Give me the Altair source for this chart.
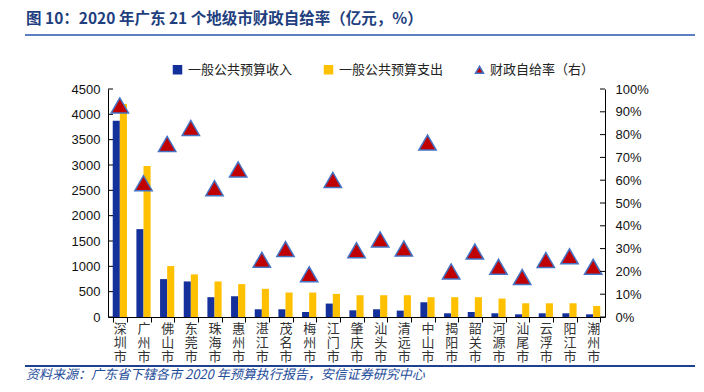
import altair as alt
import pandas as pd

cities = ["深圳市", "广州市", "佛山市", "东莞市", "珠海市", "惠州市", "湛江市", "茂名市",
          "梅州市", "江门市", "肇庆市", "汕头市", "清远市", "中山市", "揭阳市", "韶关市",
          "河源市", "汕尾市", "云浮市", "阳江市", "潮州市"]
revenue = [3872, 1734, 748, 702, 391, 410, 152, 152, 99, 265, 132, 152, 126, 291, 73, 99,
           73, 53, 73, 73, 53]
expenditure = [4204, 2979, 1006, 841, 702, 649, 556, 483, 483, 457, 430, 430, 430, 391,
               391, 391, 364, 271, 271, 271, 218]
ratio = [0.928, 0.587, 0.759, 0.829, 0.565, 0.647, 0.251, 0.298, 0.187, 0.601, 0.293,
         0.340, 0.300, 0.765, 0.200, 0.287, 0.220, 0.175, 0.250, 0.266, 0.220]
left_ticks = [0, 500, 1000, 1500, 2000, 2500, 3000, 3500, 4000, 4500]
right_ticks = [0, 0.1, 0.2, 0.3, 0.4, 0.5, 0.6, 0.7, 0.8, 0.9, 1.0]

s_rev = "一般公共预算收入"
s_exp = "一般公共预算支出"
s_rat = "财政自给率（右）"
series = [s_rev, s_exp, s_rat]
fill_colors = ["#14309A", "#FFC000", "#C00000"]
stroke_colors = ["#14309A", "#FFC000", "#4472C4"]
shapes = ["square", "square", "triangle-up"]

title_text = "图 10：2020 年广东 21 个地级市财政自给率（亿元，%）"
source_text = "资料来源：广东省下辖各市 2020 年预算执行报告，安信证券研究中心"

bars_df = pd.DataFrame(
    [{"city": c, "series": s_rev, "value": v} for c, v in zip(cities, revenue)]
    + [{"city": c, "series": s_exp, "value": v} for c, v in zip(cities, expenditure)]
)
ratio_df = pd.DataFrame({"city": cities, "series": s_rat, "ratio": ratio})

W, H = 497, 228
FONT = "Liberation Sans"
CJK = "Noto Sans CJK SC"

x_enc = alt.X(
    "city:N", sort=cities, title=None,
    scale=alt.Scale(paddingInner=0.4, paddingOuter=0.2),
    axis=alt.Axis(labelAngle=0, labelExpr="split(datum.label, '')", labelFont=CJK,
                  labelFontSize=13, labelColor="#333333", labelLineHeight=14,
                  labelPadding=0, tickBand="extent", tickSize=5, tickColor="#000000",
                  domainColor="#000000", labelBaseline="top", labelOverlap=False),
)

left_scale = alt.Scale(domain=[0, 4500], nice=False)
right_scale = alt.Scale(domain=[0, 1], nice=False)


def left_axis():
    return alt.Axis(values=left_ticks, format="d", ticks=False, labelFont=FONT,
                    labelFontSize=13, labelColor="#111111", labelPadding=8,
                    domainColor="#000000", grid=False, labelOverlap=False)


def right_axis():
    return alt.Axis(orient="right", values=right_ticks, format=".0%", ticks=False,
                    labelFont=FONT, labelFontSize=13, labelColor="#111111",
                    labelPadding=10, domainColor="#000000", grid=False,
                    labelOverlap=False)


bars = alt.Chart(bars_df).mark_bar().encode(
    x=x_enc,
    xOffset=alt.XOffset("series:N", sort=[s_rev, s_exp], scale=alt.Scale(paddingInner=0)),
    y=alt.Y("value:Q", scale=left_scale, title=None, axis=left_axis()),
    color=alt.Color("series:N", scale=alt.Scale(domain=[s_rev, s_exp],
                                                range=fill_colors[:2]),
                    legend=None),
)

lt = alt.Chart(pd.DataFrame({"t": left_ticks})).mark_rule(color="#000000").encode(
    y=alt.Y("t:Q", scale=left_scale, title=None, axis=left_axis()),
    x=alt.value(0), x2=alt.value(5),
)

left = alt.layer(bars, lt)

legend = alt.Legend(
    title=None, orient="none", legendX=63, legendY=-26, direction="horizontal",
    symbolSize=64, labelFont=CJK, labelFontSize=13, labelColor="#222222",
    columnPadding=28, labelOffset=4, labelLimit=200, symbolOpacity=1,
)

tri = alt.Chart(ratio_df).mark_point(
    filled=True, size=300, strokeWidth=1.5, opacity=1,
).encode(
    x=alt.X("city:N", sort=cities),
    y=alt.Y("ratio:Q", scale=right_scale, title=None, axis=right_axis()),
    color=alt.Color("series:N", scale=alt.Scale(domain=series, range=fill_colors),
                    legend=legend),
    shape=alt.Shape("series:N", scale=alt.Scale(domain=series, range=shapes),
                    legend=legend),
    stroke=alt.Stroke("series:N", scale=alt.Scale(domain=series, range=stroke_colors),
                      legend=legend),
)

rt = alt.Chart(pd.DataFrame({"t": right_ticks})).mark_rule(color="#000000").encode(
    y=alt.Y("t:Q", scale=right_scale, title=None, axis=right_axis()),
    x=alt.value(W - 5), x2=alt.value(W),
)

right = alt.layer(tri, rt)

one = pd.DataFrame({"a": [0]})
title_mark = alt.Chart(one).mark_text(
    text=title_text, align="left", baseline="middle", font=CJK, fontSize=15.5,
    fontWeight="bold", color="#1F3F7F",
).encode(x=alt.value(-82), y=alt.value(-70))
title_rule = alt.Chart(one).mark_rule(color="#5B7FC0", strokeWidth=2).encode(
    x=alt.value(-83), x2=alt.value(593), y=alt.value(-54)
)
src_rule = alt.Chart(one).mark_rule(color="#1F3F8F", strokeWidth=2).encode(
    x=alt.value(-83), x2=alt.value(593), y=alt.value(277)
)
src_mark = alt.Chart(one).mark_text(
    text=source_text, align="left", baseline="middle", font=CJK, fontSize=13,
    fontStyle="italic", color="#1F4E9B",
).encode(x=alt.value(-82), y=alt.value(286))

chart = alt.layer(left, right, title_mark, title_rule, src_rule, src_mark).resolve_scale(
    y="independent", color="independent", shape="independent", stroke="independent"
).resolve_legend(color="independent", shape="independent", stroke="independent").properties(
    width=W, height=H,
    autosize=alt.AutoSizeParams(type="none"),
    padding={"left": 100, "top": 81, "right": 90, "bottom": 67},
).configure_view(stroke=None)

chart.save("out.html", embed_options={"renderer": "svg", "actions": False})
